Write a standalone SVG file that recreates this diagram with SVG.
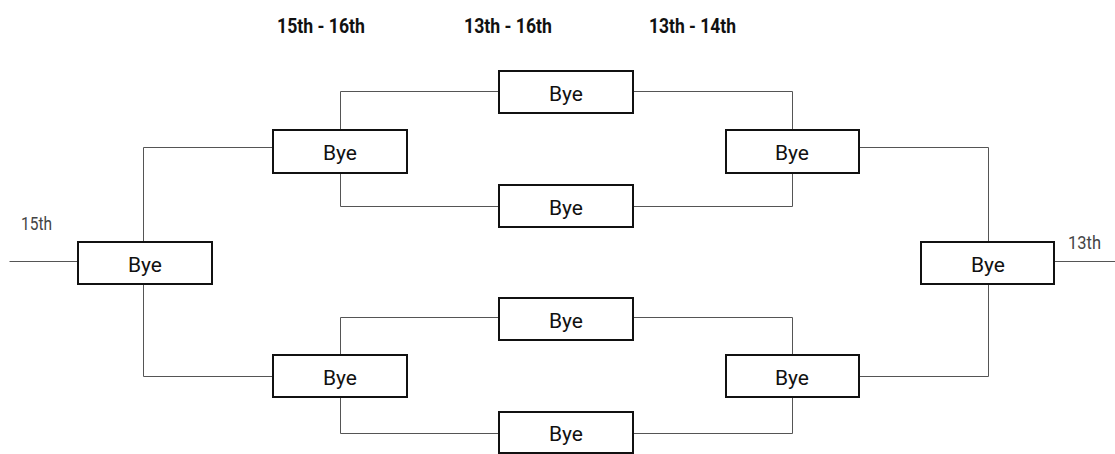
<svg xmlns="http://www.w3.org/2000/svg" width="1115" height="454" viewBox="0 0 1115 454">
<style>
.box{fill:#fff;stroke:#111;stroke-width:2}
.bye{font-family:Roboto,"Liberation Sans",sans-serif;font-size:21px;font-weight:normal;fill:#111;text-anchor:middle}
.hdr{font-family:Roboto,"Liberation Sans",sans-serif;font-size:21px;font-weight:bold;fill:#111}
.lbl{font-family:Roboto,"Liberation Sans",sans-serif;font-size:18px;fill:#444}
.conn path{fill:none;stroke:#555;stroke-width:1}
</style>
<rect width="1115" height="454" fill="#fff"/>
<g id="headers">
<text class="hdr" x="277" y="33" textLength="88" lengthAdjust="spacingAndGlyphs">15th - 16th</text>
<text class="hdr" x="464" y="33" textLength="88" lengthAdjust="spacingAndGlyphs">13th - 16th</text>
<text class="hdr" x="649" y="33" textLength="87" lengthAdjust="spacingAndGlyphs">13th - 14th</text>
<text class="lbl" x="21" y="230" textLength="31" lengthAdjust="spacingAndGlyphs">15th</text>
<text class="lbl" x="1068" y="249" textLength="33" lengthAdjust="spacingAndGlyphs">13th</text>
</g>
<g class="conn" id="connectors">
<path d="M9.5 261.5H77"/>
<path d="M272 147.5H143.5V241"/>
<path d="M143.5 285V376.5H272"/>
<path d="M340.5 129V91.5H498"/>
<path d="M340.5 174V206.5H498"/>
<path d="M340.5 354V317.5H498"/>
<path d="M340.5 398V433.5H498"/>
<path d="M634 91.5H792.5V129"/>
<path d="M634 206.5H792.5V174"/>
<path d="M634 317.5H792.5V354"/>
<path d="M634 433.5H792.5V398"/>
<path d="M860 147.5H988.5V241"/>
<path d="M860 376.5H988.5V285"/>
<path d="M1055 261.5H1115"/>
</g>
<g id="n-left"><rect class="box" x="78" y="242" width="134" height="42"/><text class="bye" x="145" y="272">Bye</text></g>
<g id="n-r1tl"><rect class="box" x="273" y="130" width="134" height="43"/><text class="bye" x="340" y="160">Bye</text></g>
<g id="n-r1bl"><rect class="box" x="273" y="355" width="134" height="42"/><text class="bye" x="340" y="385">Bye</text></g>
<g id="n-m1"><rect class="box" x="499" y="71" width="134" height="42"/><text class="bye" x="566" y="101">Bye</text></g>
<g id="n-m2"><rect class="box" x="499" y="185" width="134" height="42"/><text class="bye" x="566" y="215">Bye</text></g>
<g id="n-m3"><rect class="box" x="499" y="298" width="134" height="42"/><text class="bye" x="566" y="328">Bye</text></g>
<g id="n-m4"><rect class="box" x="499" y="412" width="134" height="41"/><text class="bye" x="566" y="441">Bye</text></g>
<g id="n-r1tr"><rect class="box" x="726" y="130" width="133" height="43"/><text class="bye" x="792" y="160">Bye</text></g>
<g id="n-r1br"><rect class="box" x="726" y="355" width="133" height="42"/><text class="bye" x="792" y="385">Bye</text></g>
<g id="n-right"><rect class="box" x="921" y="242" width="133" height="42"/><text class="bye" x="988" y="272">Bye</text></g>
</svg>
